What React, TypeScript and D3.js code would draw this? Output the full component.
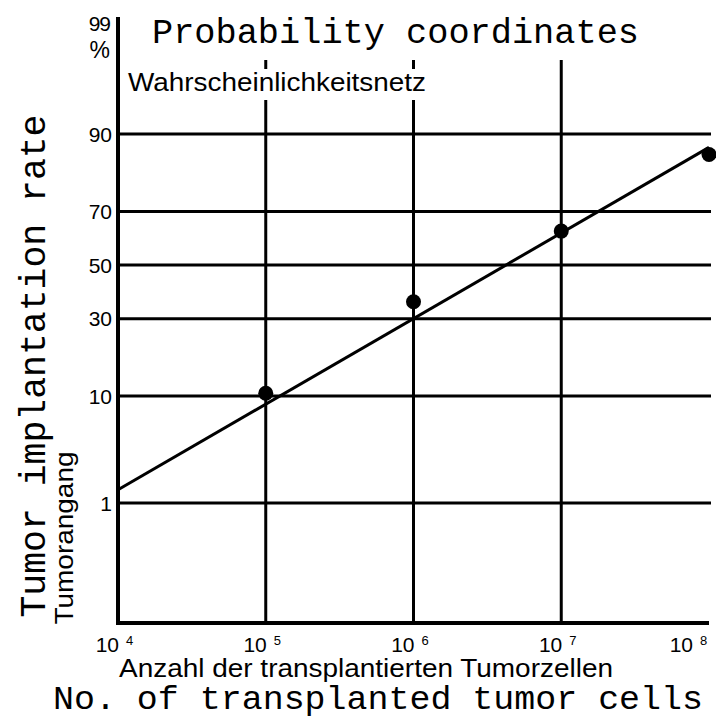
import React, { useEffect, useRef } from 'react';
import * as d3 from 'd3';

// measured points (cells injected vs. % tumor takes)
const cellCounts = [1e5, 1e6, 1e7, 1e8];
const implantationRates = [10.5, 36, 63, 86];

// fitted probit line, start and end
const fitCells = [1e4, 1e8];
const fitRates = [1.4, 87.5];

const xTicks = [1e4, 1e5, 1e6, 1e7, 1e8];
const xTickExponents = ['4', '5', '6', '7', '8'];
const xGridCells = [1e5, 1e6, 1e7];
const yGridRates = [1, 10, 30, 50, 70, 90];
const yTickLabels = ['1', '10', '30', '50', '70', '90'];

const SANS = '"Liberation Sans", Arial, Helvetica, sans-serif';
const MONO = '"Liberation Mono", "Courier New", monospace';

// inverse normal cdf (Acklam), takes a percentage
function probit(pct: number): number {
  const p = pct / 100;
  const a = [-39.69683028665376, 220.9460984245205, -275.9285104469687, 138.357751867269, -30.66479806614716, 2.506628277459239];
  const b = [-54.47609879822406, 161.5858368580409, -155.6989798598866, 66.80131188771972, -13.28068155288572];
  const c = [-0.007784894002430293, -0.3223964580411365, -2.400758277161838, -2.549732539343734, 4.374664141464968, 2.938163982698783];
  const d = [0.007784695709041462, 0.3224671290700398, 2.445134137142996, 3.754408661907416];
  const plow = 0.02425;
  if (p < plow) {
    const q = Math.sqrt(-2 * Math.log(p));
    return (((((c[0] * q + c[1]) * q + c[2]) * q + c[3]) * q + c[4]) * q + c[5]) /
      ((((d[0] * q + d[1]) * q + d[2]) * q + d[3]) * q + 1);
  }
  if (p > 1 - plow) {
    const q = Math.sqrt(-2 * Math.log(1 - p));
    return -(((((c[0] * q + c[1]) * q + c[2]) * q + c[3]) * q + c[4]) * q + c[5]) /
      ((((d[0] * q + d[1]) * q + d[2]) * q + d[3]) * q + 1);
  }
  const q = p - 0.5;
  const r = q * q;
  return (((((a[0] * r + a[1]) * r + a[2]) * r + a[3]) * r + a[4]) * r + a[5]) * q /
    (((((b[0] * r + b[1]) * r + b[2]) * r + b[3]) * r + b[4]) * r + 1);
}

const App = () => {
  const ref = useRef<SVGSVGElement>(null);

  useEffect(() => {
    const svg = d3.select(ref.current);
    svg.selectAll('*').remove();

    const left = 118, right = 709, top = 17, bottom = 623;

    const x = d3.scaleLog().domain([1e4, 1e8]).range([left, right]);
    const y = d3.scaleLinear().domain([-3.5, 2.425]).range([bottom, top]);
    const yp = (pct: number) => y(probit(pct));

    svg.append('rect').attr('width', 716).attr('height', 719).attr('fill', '#fff');

    // horizontal grid
    svg.selectAll('.hgrid')
      .data(yGridRates)
      .enter()
      .append('line')
      .attr('x1', left)
      .attr('x2', right + 2)
      .attr('y1', d => yp(d))
      .attr('y2', d => yp(d))
      .attr('stroke', '#000')
      .attr('stroke-width', 3);

    // vertical grid
    svg.selectAll('.vgrid')
      .data(xGridCells)
      .enter()
      .append('line')
      .attr('x1', d => x(d))
      .attr('x2', d => x(d))
      .attr('y1', 60)
      .attr('y2', bottom)
      .attr('stroke', '#000')
      .attr('stroke-width', 3);

    // subtitle sits in a gap of the grid lines
    svg.append('rect')
      .attr('x', 125).attr('y', 69).attr('width', 305).attr('height', 31)
      .attr('fill', '#fff');
    svg.append('text')
      .attr('x', 128).attr('y', 91)
      .attr('font-family', SANS).attr('font-size', 25)
      .attr('textLength', 298).attr('lengthAdjust', 'spacingAndGlyphs')
      .text('Wahrscheinlichkeitsnetz');

    // axes
    svg.append('line')
      .attr('x1', left).attr('x2', left).attr('y1', top).attr('y2', bottom + 2)
      .attr('stroke', '#000').attr('stroke-width', 4);
    svg.append('line')
      .attr('x1', left - 2).attr('x2', right).attr('y1', bottom).attr('y2', bottom)
      .attr('stroke', '#000').attr('stroke-width', 4);

    // y tick labels
    svg.selectAll('.ylab')
      .data(yGridRates)
      .enter()
      .append('text')
      .attr('x', 112)
      .attr('y', d => yp(d))
      .attr('dy', '0.36em')
      .attr('text-anchor', 'end')
      .attr('font-family', SANS)
      .attr('font-size', 21)
      .text((d, i) => yTickLabels[i]);

    svg.append('text')
      .attr('x', 110).attr('y', yp(99) - 4).attr('dy', '0.36em')
      .attr('text-anchor', 'end')
      .attr('font-family', SANS).attr('font-size', 21)
      .attr('letter-spacing', -1)
      .text('99');
    svg.append('text')
      .attr('x', 110).attr('y', 58)
      .attr('text-anchor', 'end')
      .attr('font-family', SANS).attr('font-size', 23)
      .text('%');

    // x tick labels: 10 with superscript exponent
    xTicks.forEach((t, i) => {
      const shift = Math.min(0, 709 - (x(t) + 17));
      svg.append('text')
        .attr('x', x(t) + 1 + shift).attr('y', 652)
        .attr('text-anchor', 'end')
        .attr('font-family', SANS).attr('font-size', 21)
        .text('10');
      svg.append('text')
        .attr('x', x(t) + 8 + shift).attr('y', 645)
        .attr('font-family', SANS).attr('font-size', 13)
        .text(xTickExponents[i]);
    });

    // fitted line
    const line = d3.line<number>()
      .x((d, i) => x(fitCells[i]))
      .y(d => yp(d));
    svg.append('path')
      .attr('d', line(fitRates))
      .attr('fill', 'none')
      .attr('stroke', '#000')
      .attr('stroke-width', 3);

    // points
    svg.selectAll('.dot')
      .data(implantationRates)
      .enter()
      .append('circle')
      .attr('cx', (d, i) => x(cellCounts[i]))
      .attr('cy', d => yp(d))
      .attr('r', 7.5)
      .attr('fill', '#000');

    // titles
    svg.append('text')
      .attr('x', 152).attr('y', 43)
      .attr('font-family', MONO).attr('font-size', 35)
      .attr('textLength', 487).attr('lengthAdjust', 'spacingAndGlyphs')
      .text('Probability coordinates');

    svg.append('text')
      .attr('transform', 'translate(45,366) rotate(-90)')
      .attr('text-anchor', 'middle')
      .attr('font-family', MONO).attr('font-size', 36)
      .attr('textLength', 503).attr('lengthAdjust', 'spacingAndGlyphs')
      .text('Tumor implantation rate');

    svg.append('text')
      .attr('transform', 'translate(73,538) rotate(-90)')
      .attr('text-anchor', 'middle')
      .attr('font-family', SANS).attr('font-size', 25)
      .attr('textLength', 173).attr('lengthAdjust', 'spacingAndGlyphs')
      .text('Tumorangang');

    svg.append('text')
      .attr('x', 119).attr('y', 677)
      .attr('font-family', SANS).attr('font-size', 25)
      .attr('textLength', 494).attr('lengthAdjust', 'spacingAndGlyphs')
      .text('Anzahl der transplantierten Tumorzellen');

    svg.append('text')
      .attr('x', 53).attr('y', 709)
      .attr('font-family', MONO).attr('font-size', 34)
      .attr('textLength', 650).attr('lengthAdjust', 'spacingAndGlyphs')
      .text('No. of transplanted tumor cells');
  }, []);

  return (
    <svg ref={ref} width={716} height={719} style={{ position: 'absolute', left: 0, top: 0 }} />
  );
};

export default App;
